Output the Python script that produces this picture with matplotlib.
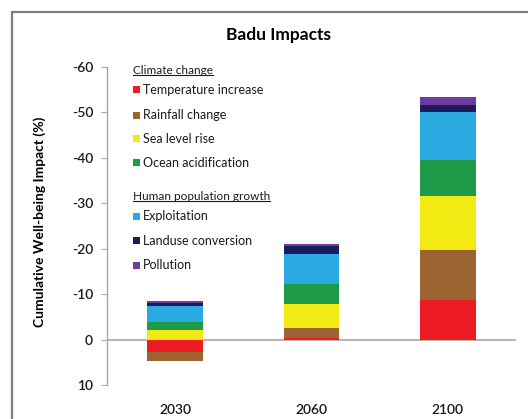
import matplotlib
matplotlib.use("Agg")
import matplotlib.pyplot as plt
from matplotlib.patches import Rectangle
from matplotlib.lines import Line2D
import numpy as np

plt.rcParams['font.family'] = ['Lato', 'DejaVu Sans']

years = ["2030", "2060", "2100"]
climate_series = ["Temperature increase", "Rainfall change", "Sea level rise", "Ocean acidification"]
human_series = ["Exploitation", "Landuse conversion", "Pollution"]
temperature = [2.8, -0.4, -8.8]
rainfall = [1.9, -2.2, -11.0]
sea_level = [-2.2, -5.3, -11.7]
ocean_acid = [-1.6, -4.3, -8.1]
exploitation = [-3.6, -6.7, -10.6]
landuse = [-0.7, -1.6, -1.4]
pollution = [-0.3, -0.5, -1.7]
y_ticks = [-60, -50, -40, -30, -20, -10, 0, 10]

series = [temperature, rainfall, sea_level, ocean_acid, exploitation, landuse, pollution]
names = climate_series + human_series
colors = ["#ED1C24", "#9B6430", "#F3EA14", "#1E9B48", "#2AAAE1", "#1C1B5C", "#6E3B9E"]

fig = plt.figure(figsize=(5.28, 4.19), dpi=100)
fig.patch.set_facecolor("white")
# outer frame
fig.patches.append(Rectangle((12/528, -0.05), 1.2, 1 - 12/419 + 0.05, transform=fig.transFigure,
                             fill=False, edgecolor="#7f7f7f", linewidth=1.6))

ax = fig.add_axes([107/528, 1 - 385/419, (516 - 107)/528, (385 - 67)/419])
x = np.arange(len(years))
pos_b = np.zeros(len(years))
neg_b = np.zeros(len(years))
for vals, c, n in zip(series, colors, names):
    v = np.array(vals, dtype=float)
    b = np.where(v >= 0, pos_b, neg_b)
    ax.bar(x, v, bottom=b, width=0.41, color=c, label=n, linewidth=0, zorder=3)
    pos_b = pos_b + np.where(v >= 0, v, 0)
    neg_b = neg_b + np.where(v < 0, v, 0)

ax.set_xlim(-0.5, 2.5)
ax.set_ylim(10, -60)
ax.set_yticks(y_ticks)
ax.set_yticklabels([str(t) for t in y_ticks])
ax.set_xticks(x)
ax.set_xticklabels(years)
ax.axhline(0, color="#B3A39A", linewidth=1.2, zorder=2)
for s in ["top", "right", "bottom"]:
    ax.spines[s].set_visible(False)
ax.spines["left"].set_color("#B3A39A")
ax.spines["left"].set_linewidth(1.0)
ax.tick_params(axis="y", length=4, color="#B3A39A", pad=6, labelsize=10, labelcolor="#1a1a1a")
ax.tick_params(axis="x", length=0, pad=14, labelsize=10, labelcolor="#1a1a1a")
for lab in ax.get_xticklabels() + ax.get_yticklabels():
    lab.set_fontweight("semibold")

fig.text(278/528, 1 - 35/419, "Badu Impacts", ha="center", va="center", fontsize=12.5, fontweight="bold")
fig.text(40/528, 1 - 222/419, "Cumulative Well-being Impact (%)", rotation=90, ha="center", va="center",
         fontsize=10, fontweight="bold")

# legend (manual, grouped)
def fx(px):
    return px / 528
def fy(py):
    return 1 - py / 419

headers = [("Climate change", 70), ("Human population growth", 196)]
entry_y = [90, 115, 139, 163, 216, 241, 265]
fig.canvas.draw()
for h, py in headers:
    t = fig.text(fx(133), fy(py), h, ha="left", va="center", fontsize=8.5, color="#1a1a1a")
    fig.canvas.draw()
    bb = t.get_window_extent()
    inv = fig.transFigure.inverted()
    (x0, y0), (x1, y1) = inv.transform([(bb.x0, bb.y0), (bb.x1, bb.y1)])
    fig.lines.append(Line2D([x0, x1], [y0 + 0.002, y0 + 0.002], transform=fig.transFigure,
                            color="#1a1a1a", linewidth=0.8))
for n, c, py in zip(names, colors, entry_y):
    fig.patches.append(Rectangle((fx(133), fy(py) - 3.5/419), 7/528, 7/419, transform=fig.transFigure,
                                 facecolor=c, edgecolor="none"))
    fig.text(fx(143), fy(py), n, ha="left", va="center", fontsize=9, color="#1a1a1a")

fig.savefig("out.png", dpi=100, facecolor="white")
